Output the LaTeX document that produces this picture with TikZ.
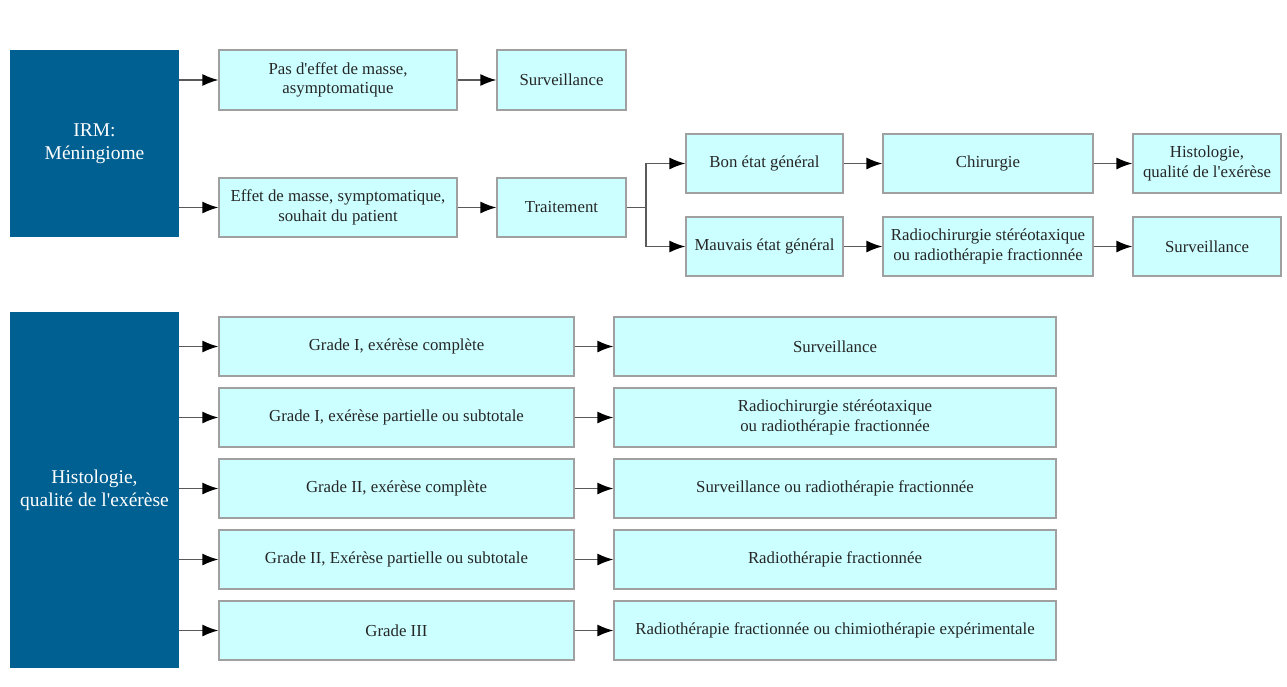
\documentclass[tikz,border=0pt]{standalone}
\usepackage{fontspec}
\setmainfont{Liberation Serif}
\usetikzlibrary{arrows.meta}
\definecolor{darkbox}{RGB}{0,96,145}
\definecolor{lightbox}{RGB}{204,255,255}
\definecolor{boxline}{RGB}{160,160,160}
\definecolor{arrowline}{RGB}{90,90,90}
\newcommand{\apos}{\textquotesingle}
\begin{document}
\begin{tikzpicture}[x=1pt,y=-1pt,
  lbox/.style={draw=boxline, line width=1.2pt, fill=lightbox, inner sep=0pt, align=center,
    font=\fontsize{16.8}{19.5}\selectfont, text=black!85},
  dbox/.style={fill=darkbox, inner sep=0pt, align=center,
    font=\fontsize{19.5}{23}\selectfont, text=white},
  conn/.style={draw=arrowline, line width=1.5pt, -{Latex[length=16pt,width=12pt,color=black]}},
  plain/.style={draw=arrowline, line width=1.5pt}]
\useasboundingbox (0,0) rectangle (1287,686);
\fill[white] (0,0) rectangle (1287,686);
% top section
\node[dbox, minimum width=169pt, minimum height=187pt] (irm) at (94.5,143.5) {IRM:\\Méningiome};
\node[lbox, minimum width=238pt, minimum height=60pt] (pas) at (338,80) {Pas d\apos effet de masse,\\asymptomatique};
\node[lbox, minimum width=129pt, minimum height=60pt] (surv1) at (561.5,80) {Surveillance};
\node[lbox, minimum width=238pt, minimum height=59pt] (effet) at (338,207.5) {Effet de masse, symptomatique,\\souhait du patient};
\node[lbox, minimum width=129pt, minimum height=59pt] (trait) at (561.5,207.5) {Traitement};
\node[lbox, minimum width=157pt, minimum height=59pt] (bon) at (764.5,163.5) {Bon état général};
\node[lbox, minimum width=210pt, minimum height=59pt] (chir) at (988,163.5) {Chirurgie};
\node[lbox, minimum width=148pt, minimum height=59pt] (histo1) at (1207,163.5) {Histologie,\\qualité de l\apos exérèse};
\node[lbox, minimum width=157pt, minimum height=59pt] (mauv) at (764.5,246.5) {Mauvais état général};
\node[lbox, minimum width=210pt, minimum height=59pt] (radio1) at (988,246.5) {Radiochirurgie stéréotaxique\\ou radiothérapie fractionnée};
\node[lbox, minimum width=148pt, minimum height=59pt] (surv2) at (1207,246.5) {Surveillance};
\draw[conn] (irm.east |- pas.west) -- (pas.west);
\draw[conn] (irm.east |- effet.west) -- (effet.west);
\draw[conn] (pas) -- (surv1);
\draw[conn] (effet) -- (trait);
\coordinate (br) at (646,207.5);
\draw[plain] (trait.east) -- (br);
\draw[conn] (br) |- (bon.west);
\draw[conn] (br) |- (mauv.west);
\draw[conn] (bon) -- (chir);
\draw[conn] (chir) -- (histo1);
\draw[conn] (mauv) -- (radio1);
\draw[conn] (radio1) -- (surv2);
% bottom section
\node[dbox, minimum width=169pt, minimum height=356pt] (histo) at (94.5,490) {Histologie,\\qualité de l\apos exérèse};
\node[lbox, minimum width=355pt, minimum height=59pt] (g1) at (396.5,346.5) {Grade I, exérèse complète};
\node[lbox, minimum width=355pt, minimum height=59pt] (g2) at (396.5,417.5) {Grade I, exérèse partielle ou subtotale};
\node[lbox, minimum width=355pt, minimum height=59pt] (g3) at (396.5,488.5) {Grade II, exérèse complète};
\node[lbox, minimum width=355pt, minimum height=59pt] (g4) at (396.5,559.5) {Grade II, Exérèse partielle ou subtotale};
\node[lbox, minimum width=355pt, minimum height=59pt] (g5) at (396.5,630.5) {Grade III};
\node[lbox, minimum width=442pt, minimum height=59pt] (r1) at (835,346.5) {Surveillance};
\node[lbox, minimum width=442pt, minimum height=59pt] (r2) at (835,417.5) {Radiochirurgie stéréotaxique\\ou radiothérapie fractionnée};
\node[lbox, minimum width=442pt, minimum height=59pt] (r3) at (835,488.5) {Surveillance ou radiothérapie fractionnée};
\node[lbox, minimum width=442pt, minimum height=59pt] (r4) at (835,559.5) {Radiothérapie fractionnée};
\node[lbox, minimum width=442pt, minimum height=59pt] (r5) at (835,630.5) {Radiothérapie fractionnée ou chimiothérapie expérimentale};
\foreach \i in {1,...,5}{
  \draw[conn] (histo.east |- g\i.west) -- (g\i.west);
  \draw[conn] (g\i) -- (r\i);
}
\end{tikzpicture}
\end{document}
